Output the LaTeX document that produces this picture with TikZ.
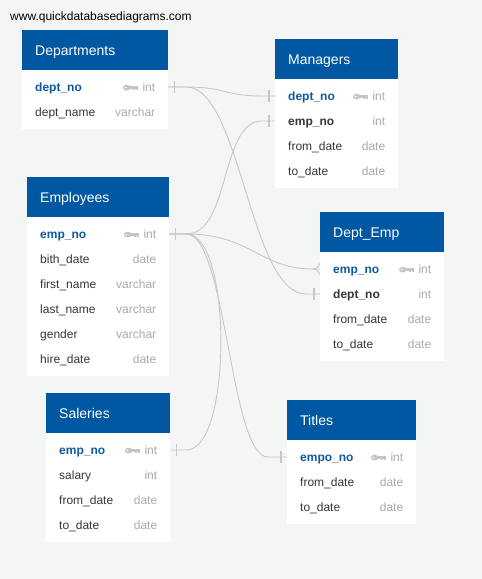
\documentclass[tikz,border=0pt]{standalone}
\usepackage{fontspec}
\setmainfont{Liberation Sans}
\usetikzlibrary{calc}
\definecolor{bg}{HTML}{F4F5F5}
\definecolor{hdr}{HTML}{0058A2}
\definecolor{pkc}{HTML}{0D5A9F}
\definecolor{fld}{HTML}{33373B}
\definecolor{typ}{HTML}{A8AAAD}
\definecolor{lnk}{HTML}{C6C7C8}
\definecolor{keyc}{HTML}{C3C6C9}
\tikzset{
  hdrbox/.style={fill=hdr, draw=none, anchor=north west, inner sep=0pt, minimum height=40pt},
  bodybox/.style={fill=white, draw=none, anchor=north west, inner sep=0pt},
  ttl/.style={anchor=base west, inner sep=0pt, text=white, font=\fontsize{14}{16}\selectfont},
  rowtxt/.style={inner sep=0pt, font=\fontsize{12}{14}\selectfont},
  fnorm/.style={rowtxt, anchor=base west, text=fld},
  fpk/.style={rowtxt, anchor=base west, text=pkc, font=\fontsize{12}{14}\selectfont\bfseries},
  ffk/.style={rowtxt, anchor=base west, text=fld, font=\fontsize{12}{14}\selectfont\bfseries},
  ftype/.style={rowtxt, anchor=base east, text=typ},
  link/.style={draw=lnk, line width=0.9pt},
  tickmark/.style={draw=lnk, line width=1.2pt},
}
\newcommand\ertable[6]{%
  \node[hdrbox, minimum width=#4pt] (#1-h) at (#2,#3) {};
  \node[bodybox, minimum width=#4pt, minimum height={25*#5+9}] (#1-b) at (#2,#3+40) {};
  \node[ttl] (#1-t) at ($(#1-h.north west)+(13,25)$) {#6};
}
\newcommand\keyicon[1]{%
  \fill[keyc] ([xshift=-15.6pt,yshift=3.4pt]#1.base west) ellipse (3.8pt and 2.9pt);
  \fill[keyc] ([xshift=-13pt,yshift=4.6pt]#1.base west) rectangle ([xshift=-4.8pt,yshift=2.3pt]#1.base west);
  \fill[keyc] ([xshift=-9.4pt,yshift=2.6pt]#1.base west) rectangle ([xshift=-7.6pt,yshift=0.6pt]#1.base west);
  \fill[keyc] ([xshift=-6.6pt,yshift=2.6pt]#1.base west) rectangle ([xshift=-4.8pt,yshift=0.6pt]#1.base west);
  \fill[white] ([xshift=-16.8pt,yshift=3.4pt]#1.base west) circle (0.9pt);
}
\newcommand\errow[6]{%
  \node[#3] (#1-r#2) at ($(#1-b.north west)+(13,21+25*#2)$) {#4};
  \node[ftype] (#1-y#2) at ($(#1-b.north east)+(-13,21+25*#2)$) {#5};
  \ifnum#6=1 \keyicon{#1-y#2}\fi
}
\begin{document}
\begin{tikzpicture}[x=1pt,y=-1pt]
\fill[bg] (0,0) rectangle (482,579);
\useasboundingbox (0,0) rectangle (482,579);

\node[anchor=base west, inner sep=0pt, text=black, font=\fontsize{12}{14}\selectfont] (url) at (10,20) {www.quickdatabasediagrams.com};

% Departments
\ertable{dep}{22}{30}{146}{2}{Departments}
\errow{dep}{0}{fpk}{dept\_no}{int}{1}
\errow{dep}{1}{fnorm}{dept\_name}{varchar}{0}

% Managers
\ertable{man}{275}{39}{123}{4}{Managers}
\errow{man}{0}{fpk}{dept\_no}{int}{1}
\errow{man}{1}{ffk}{emp\_no}{int}{0}
\errow{man}{2}{fnorm}{from\_date}{date}{0}
\errow{man}{3}{fnorm}{to\_date}{date}{0}

% Employees
\ertable{emp}{27}{177}{142}{6}{Employees}
\errow{emp}{0}{fpk}{emp\_no}{int}{1}
\errow{emp}{1}{fnorm}{bith\_date}{date}{0}
\errow{emp}{2}{fnorm}{first\_name}{varchar}{0}
\errow{emp}{3}{fnorm}{last\_name}{varchar}{0}
\errow{emp}{4}{fnorm}{gender}{varchar}{0}
\errow{emp}{5}{fnorm}{hire\_date}{date}{0}

% Dept_Emp
\ertable{de}{320}{212}{124}{4}{Dept\_Emp}
\errow{de}{0}{fpk}{emp\_no}{int}{1}
\errow{de}{1}{ffk}{dept\_no}{int}{0}
\errow{de}{2}{fnorm}{from\_date}{date}{0}
\errow{de}{3}{fnorm}{to\_date}{date}{0}

% Saleries
\ertable{sal}{46}{393}{124}{4}{Saleries}
\errow{sal}{0}{fpk}{emp\_no}{int}{1}
\errow{sal}{1}{fnorm}{salary}{int}{0}
\errow{sal}{2}{fnorm}{from\_date}{date}{0}
\errow{sal}{3}{fnorm}{to\_date}{date}{0}

% Titles
\ertable{tit}{287}{400}{129}{3}{Titles}
\errow{tit}{0}{fpk}{empo\_no}{int}{1}
\errow{tit}{1}{fnorm}{from\_date}{date}{0}
\errow{tit}{2}{fnorm}{to\_date}{date}{0}

% connection points
\coordinate (depP) at ($(dep-b.east |- dep-r0.base)+(0,-4)$);
\coordinate (manP0) at ($(man-b.west |- man-r0.base)+(0,-4)$);
\coordinate (manP1) at ($(man-b.west |- man-r1.base)+(0,-4)$);
\coordinate (empP) at ($(emp-b.east |- emp-r0.base)+(0,-4)$);
\coordinate (deP0) at ($(de-b.west |- de-r0.base)+(0,-4)$);
\coordinate (deP1) at ($(de-b.west |- de-r1.base)+(0,-4)$);
\coordinate (salP) at ($(sal-b.east |- sal-r0.base)+(0,-4)$);
\coordinate (titP) at ($(tit-b.west |- tit-r0.base)+(0,-4)$);

% connectors
\draw[link] (depP) -- ++(18,0) .. controls +(39,0) and +(-37,0) .. ($(manP0)+(-13,0)$) -- (manP0);
\draw[link] (depP) -- ++(18,0) .. controls +(54,0) and +(-56,0) .. ($(deP1)+(-14,0)$) -- (deP1);
\draw[link] (empP) -- ++(17,0) .. controls +(44,0) and +(-42,0) .. ($(manP1)+(-13,0)$) -- (manP1);
\draw[link] (empP) -- ++(17,0) .. controls +(64,0) and +(-53,0) .. ($(deP0)+(-7,0)$) -- (deP0);
\draw[link] ($(deP0)+(-7,0)$) .. controls +(3,0) .. ($(deP0)+(0,-5.5)$);
\draw[link] ($(deP0)+(-7,0)$) .. controls +(3,0) .. ($(deP0)+(0,5.5)$);
\draw[link] (empP) -- ++(17,0) .. controls +(46,0) and +(46,0) .. ($(salP)+(16,0)$) -- (salP);
\draw[link] (empP) -- ++(17,0) .. controls +(40,0) and +(-38,0) .. ($(titP)+(-19,0)$) -- (titP);

% cardinality ticks
\draw[tickmark] ($(depP)+(6,-6)$) -- ($(depP)+(6,6)$);
\draw[tickmark] ($(manP0)+(-6,-6)$) -- ($(manP0)+(-6,6)$);
\draw[tickmark] ($(manP1)+(-6,-6)$) -- ($(manP1)+(-6,6)$);
\draw[tickmark] ($(empP)+(6,-6)$) -- ($(empP)+(6,6)$);
\draw[tickmark] ($(deP1)+(-6,-6)$) -- ($(deP1)+(-6,6)$);
\draw[tickmark] ($(salP)+(6,-6)$) -- ($(salP)+(6,6)$);
\draw[tickmark] ($(titP)+(-6,-6)$) -- ($(titP)+(-6,6)$);
\end{tikzpicture}
\end{document}
